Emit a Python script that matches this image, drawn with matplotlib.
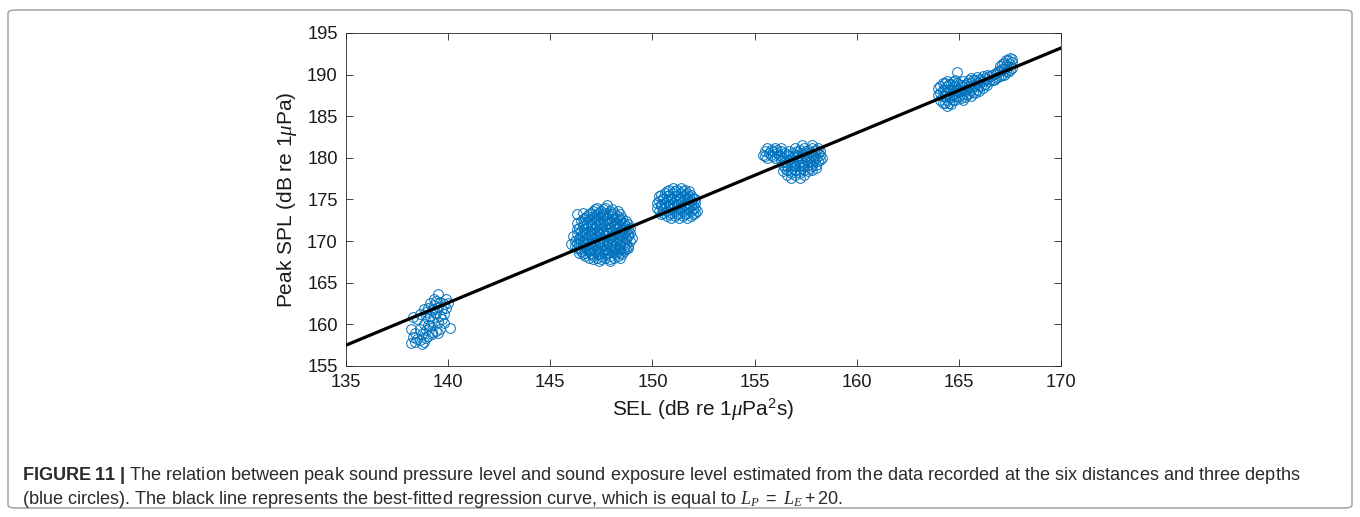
import matplotlib
matplotlib.use("Agg")
import matplotlib.pyplot as plt
from matplotlib.patches import FancyBboxPatch
from matplotlib import font_manager

names = {f.name for f in font_manager.fontManager.ttflist}
narrow = 'Liberation Sans Narrow' if 'Liberation Sans Narrow' in names else 'Liberation Sans'

plt.rcParams['font.family'] = ['Liberation Sans', 'DejaVu Sans']
plt.rcParams['mathtext.fontset'] = 'custom'
plt.rcParams['mathtext.rm'] = 'Liberation Sans'
plt.rcParams['mathtext.it'] = 'Liberation Serif:italic'
plt.rcParams['mathtext.bf'] = narrow + ':bold'

# ---------------- data ----------------
xticks = [135, 140, 145, 150, 155, 160, 165, 170]
yticks = [155, 160, 165, 170, 175, 180, 185, 190, 195]

# regression line end points (SEL, Peak SPL)
line_sel = [135, 170]
line_spl = [157.5, 193.2]

# cluster A (~139 dB SEL)
sel_a = [138.2, 138.2, 138.3, 138.4, 138.4, 138.5, 138.5, 138.6, 138.6, 138.7,
         138.7, 138.8, 138.8, 138.9, 138.9, 138.9, 139.0, 139.0, 139.0, 139.1,
         139.1, 139.1, 139.2, 139.2, 139.2, 139.3, 139.3, 139.3, 139.4, 139.4,
         139.4, 139.5, 139.5, 139.5, 139.6, 139.6, 139.6, 139.7, 139.7, 139.8,
         139.8, 139.9, 139.9, 140.0, 140.1, 139.0, 138.6, 139.2, 139.5, 139.8,
         138.3, 139.3, 138.8]
spl_a = [157.8, 159.4, 158.5, 157.9, 159.0, 158.3, 160.6, 159.5, 161.2, 158.8,
         157.6, 160.1, 157.9, 158.4, 159.3, 161.5, 160.7, 162.0, 158.6, 159.8,
         161.0, 162.6, 160.4, 161.7, 159.1, 162.3, 160.9, 163.0, 161.4, 159.2,
         162.8, 163.7, 160.3, 162.1, 161.0, 159.5, 162.7, 161.8, 160.6, 162.4,
         161.3, 162.0, 163.1, 162.6, 159.6, 159.9, 158.1, 158.9, 159.0, 160.2,
         160.9, 161.9, 161.8]

# cluster B (~147.6 dB SEL): rows of Peak SPL with the SEL values on each row
spl_b_rows = [167.6, 168.0, 168.4, 168.8, 169.2, 169.6, 170.0, 170.4, 170.8,
              171.2, 171.6, 172.0, 172.4, 172.8, 173.2, 173.6, 174.0, 174.3,
              167.8, 168.2, 168.6, 169.0, 169.4, 169.8, 170.2, 170.6, 171.0,
              171.4, 171.8, 172.2, 172.6, 173.0, 173.4, 173.8]
sel_b_rows = [
    [147.4, 147.9],
    [146.9, 147.3, 147.7, 148.1, 148.4],
    [146.6, 147.0, 147.4, 147.8, 148.2, 148.5],
    [146.5, 146.9, 147.2, 147.6, 148.0, 148.3, 148.6],
    [146.3, 146.7, 147.1, 147.5, 147.9, 148.2, 148.6, 148.8],
    [146.0, 146.4, 146.8, 147.2, 147.6, 148.0, 148.4, 148.7],
    [146.2, 146.6, 147.0, 147.4, 147.8, 148.1, 148.5, 148.9],
    [146.4, 146.8, 147.1, 147.5, 147.9, 148.3, 148.7, 149.0],
    [146.3, 146.7, 147.0, 147.4, 147.7, 148.1, 148.5, 148.8],
    [146.5, 146.9, 147.3, 147.6, 148.0, 148.4, 148.7],
    [146.4, 146.8, 147.2, 147.5, 147.9, 148.3, 148.6, 148.9],
    [146.6, 147.0, 147.4, 147.8, 148.2, 148.5, 148.8],
    [146.5, 146.9, 147.3, 147.7, 148.0, 148.4, 148.7],
    [146.7, 147.1, 147.5, 147.8, 148.2, 148.5],
    [146.3, 146.9, 147.3, 147.6, 148.0, 148.4],
    [147.1, 147.5, 147.9, 148.3],
    [147.3, 147.7],
    [147.8],
    [147.1, 147.5, 147.9],
    [146.7, 147.1, 147.5, 147.9, 148.3],
    [146.4, 146.7, 147.0, 147.4, 147.8, 148.1, 148.4],
    [146.5, 146.9, 147.3, 147.7, 148.1, 148.4, 148.7],
    [146.2, 146.6, 147.0, 147.4, 147.8, 148.1, 148.4, 148.8],
    [146.3, 146.6, 147.0, 147.4, 147.8, 148.2, 148.6],
    [146.4, 146.8, 147.2, 147.6, 148.0, 148.3, 148.7],
    [146.1, 146.5, 146.9, 147.3, 147.7, 148.0, 148.4, 148.8],
    [146.6, 147.0, 147.4, 147.8, 148.2, 148.6, 148.9],
    [146.3, 146.7, 147.1, 147.4, 147.8, 148.2, 148.5, 148.8],
    [146.6, 147.0, 147.3, 147.7, 148.1, 148.4, 148.7],
    [146.3, 146.8, 147.2, 147.6, 147.9, 148.3, 148.6],
    [146.6, 147.0, 147.4, 147.8, 148.1, 148.4],
    [146.8, 147.2, 147.6, 148.0, 148.3],
    [146.6, 147.0, 147.4, 147.8, 148.1],
    [147.2, 147.6, 148.0],
]

# cluster C (~151.2 dB SEL)
spl_c_rows = [172.8, 173.2, 173.6, 174.0, 174.4, 174.8, 175.2, 175.6, 176.0, 176.4,
              173.0, 173.4, 173.8, 174.2, 174.6, 175.0, 175.4, 175.8, 176.2]
sel_c_rows = [
    [150.9, 151.3, 151.7],
    [150.4, 150.8, 151.2, 151.6, 152.0],
    [150.3, 150.7, 151.1, 151.5, 151.9, 152.2],
    [150.2, 150.6, 151.0, 151.4, 151.8, 152.1],
    [150.4, 150.8, 151.2, 151.6, 152.0],
    [150.3, 150.7, 151.1, 151.5, 151.9],
    [150.5, 150.9, 151.3, 151.7, 152.0],
    [150.4, 150.8, 151.2, 151.6, 151.9],
    [150.7, 151.1, 151.5, 151.8],
    [151.0, 151.4],
    [150.7, 151.1, 151.5, 151.9],
    [150.5, 150.9, 151.3, 151.7, 152.1],
    [150.5, 150.9, 151.3, 151.7, 152.0],
    [150.4, 150.8, 151.2, 151.6, 151.9],
    [150.2, 150.6, 151.0, 151.4, 151.8, 152.1],
    [150.5, 150.9, 151.3, 151.7, 152.1],
    [150.3, 150.7, 151.1, 151.5, 151.8],
    [150.6, 151.0, 151.4, 151.7],
    [150.8, 151.2, 151.6],
]

# cluster D (~156-158 dB SEL)
spl_d_rows = [181.5, 181.2, 180.8, 180.4, 180.0, 179.6, 179.2, 178.8, 178.4, 178.0, 177.6,
              181.0, 180.6, 180.2, 179.8, 179.4, 179.0, 178.6, 178.2]
sel_d_rows = [
    [157.3, 157.8],
    [155.6, 156.0, 156.3, 157.0, 157.4, 157.8, 158.1],
    [155.5, 155.9, 156.3, 156.7, 157.1, 157.5, 157.9, 158.2],
    [155.4, 155.8, 156.2, 156.6, 157.0, 157.4, 157.8, 158.2],
    [155.6, 156.0, 156.4, 156.8, 157.2, 157.6, 158.0, 158.3],
    [156.5, 156.9, 157.3, 157.7, 158.1],
    [156.4, 156.8, 157.2, 157.6, 158.0],
    [156.5, 156.9, 157.3, 157.7, 158.0],
    [156.4, 156.8, 157.2, 157.6],
    [156.6, 157.0, 157.4],
    [156.8, 157.2],
    [155.8, 156.1, 157.2, 157.6, 158.0],
    [155.7, 156.1, 156.5, 156.9, 157.3, 157.7, 158.1],
    [155.5, 155.9, 156.3, 156.7, 157.1, 157.5, 157.9],
    [156.3, 156.7, 157.1, 157.5, 157.9, 158.2],
    [156.6, 157.0, 157.4, 157.8],
    [156.6, 157.0, 157.4, 157.8],
    [156.6, 157.0, 157.4, 157.8],
    [156.8, 157.2],
]

# cluster E (~164-168 dB SEL): columns of SEL with the Peak SPL values on each
sel_e_cols = [164.0, 164.2, 164.4, 164.6, 164.8, 164.9, 165.0, 165.2, 165.4, 165.6,
              165.8, 166.0, 166.2, 166.4, 166.6, 166.8, 167.0, 167.2, 167.4, 167.6,
              164.1, 164.3, 164.5, 164.7, 164.9, 165.1, 165.3, 165.5, 165.7, 165.9,
              166.1, 166.3, 166.5, 166.7, 166.9, 167.1, 167.3, 167.5]
spl_e_cols = [
    [187.6, 188.4],
    [186.6, 187.4, 188.2, 189.0],
    [186.2, 187.0, 187.8, 188.6, 189.2],
    [186.5, 187.3, 188.1, 188.9],
    [187.0, 187.8, 188.6, 189.3],
    [190.3],
    [187.3, 188.1, 188.9],
    [186.9, 187.7, 188.5, 189.2],
    [187.5, 188.3, 189.0],
    [187.4, 188.2, 189.0, 189.6],
    [187.8, 188.6, 189.3],
    [188.0, 188.8, 189.5],
    [188.4, 189.2, 189.8],
    [188.8, 189.5, 190.0],
    [189.3, 190.0],
    [189.6, 190.2],
    [189.8, 190.4, 191.0],
    [190.0, 190.7, 191.4],
    [190.3, 191.0, 191.7],
    [190.8, 191.5, 191.9],
    [187.0, 187.8, 188.6],
    [186.6, 187.4, 188.2, 189.0],
    [186.6, 187.4, 188.2, 188.9],
    [186.9, 187.7, 188.5, 189.1],
    [187.4, 188.2, 189.0],
    [187.2, 188.0, 188.8],
    [187.3, 188.1, 188.8],
    [187.8, 188.6, 189.3],
    [187.9, 188.7, 189.4],
    [188.2, 189.0, 189.7],
    [188.6, 189.3],
    [188.9, 189.6],
    [189.2, 189.8],
    [189.4, 190.1],
    [189.7, 190.4],
    [190.0, 190.7, 191.3],
    [190.4, 191.1, 191.8],
    [190.6, 191.3, 192.0],
]

# ------------- assemble points -------------
sel_pts = list(sel_a)
spl_pts = list(spl_a)
for rows_y, rows_x in [(spl_b_rows, sel_b_rows), (spl_c_rows, sel_c_rows), (spl_d_rows, sel_d_rows)]:
    for yv, xs in zip(rows_y, rows_x):
        for xv in xs:
            sel_pts.append(xv)
            spl_pts.append(yv)
for xv, ys in zip(sel_e_cols, spl_e_cols):
    for yv in ys:
        sel_pts.append(xv)
        spl_pts.append(yv)

# ---------------- figure ----------------
W, H = 1360, 517
fig = plt.figure(figsize=(W / 100, H / 100), dpi=100)

# rounded frame
frame = FancyBboxPatch((8 / W, 1 - 508 / H), (1352 - 8) / W, (508 - 10) / H,
                       boxstyle="round,pad=0,rounding_size=0.006",
                       transform=fig.transFigure, fill=False,
                       edgecolor='#9a9a9a', linewidth=1.0)
fig.patches.append(frame)

ax = fig.add_axes([346 / W, 1 - 366 / H, (1061 - 346) / W, (366 - 33) / H])

blue = '#0072BD'
ax.plot(sel_pts, spl_pts, linestyle='none', marker='o', markersize=7.0,
        markerfacecolor='none', markeredgecolor=blue, markeredgewidth=0.7, zorder=2)
ax.plot(line_sel, line_spl, color='black', linewidth=2.3, zorder=3)

ax.set_xlim(135, 170)
ax.set_ylim(155, 195)
ax.set_xticks(xticks)
ax.set_yticks(yticks)
ax.set_xticklabels([str(v) for v in xticks])
ax.set_yticklabels([str(v) for v in yticks])

axcol = '#262626'
for s in ax.spines.values():
    s.set_color(axcol)
    s.set_linewidth(0.6)
ax.tick_params(direction='in', length=5, width=0.6, color=axcol, labelcolor='#1a1a1a',
               labelsize=13.2, top=True, right=True, pad=6)

ax.set_xlabel(r'SEL (dB re 1$\mu$Pa$^2$s)', fontsize=15, color='#1a1a1a', labelpad=4)
ax.set_ylabel(r'Peak SPL (dB re 1$\mu$Pa)', fontsize=15, color='#1a1a1a', labelpad=6)

capcol = '#2b2b2b'
fig.text(22 / W, 1 - 476 / H,
         r'$\bf{FIGURE\ 11\ |}$ The relation between peak sound pressure level and sound exposure level '
         r'estimated from the data recorded at the six distances and three depths',
         family=narrow, fontsize=13.05, color=capcol, va='center', ha='left')
fig.text(22 / W, 1 - 499 / H,
         r'(blue circles). The black line represents the best-fitted regression curve, '
         r'which is equal to $L_P\ =\ L_E + 20$.',
         family=narrow, fontsize=13.05, color=capcol, va='center', ha='left')

fig.savefig('out.png', dpi=100)
